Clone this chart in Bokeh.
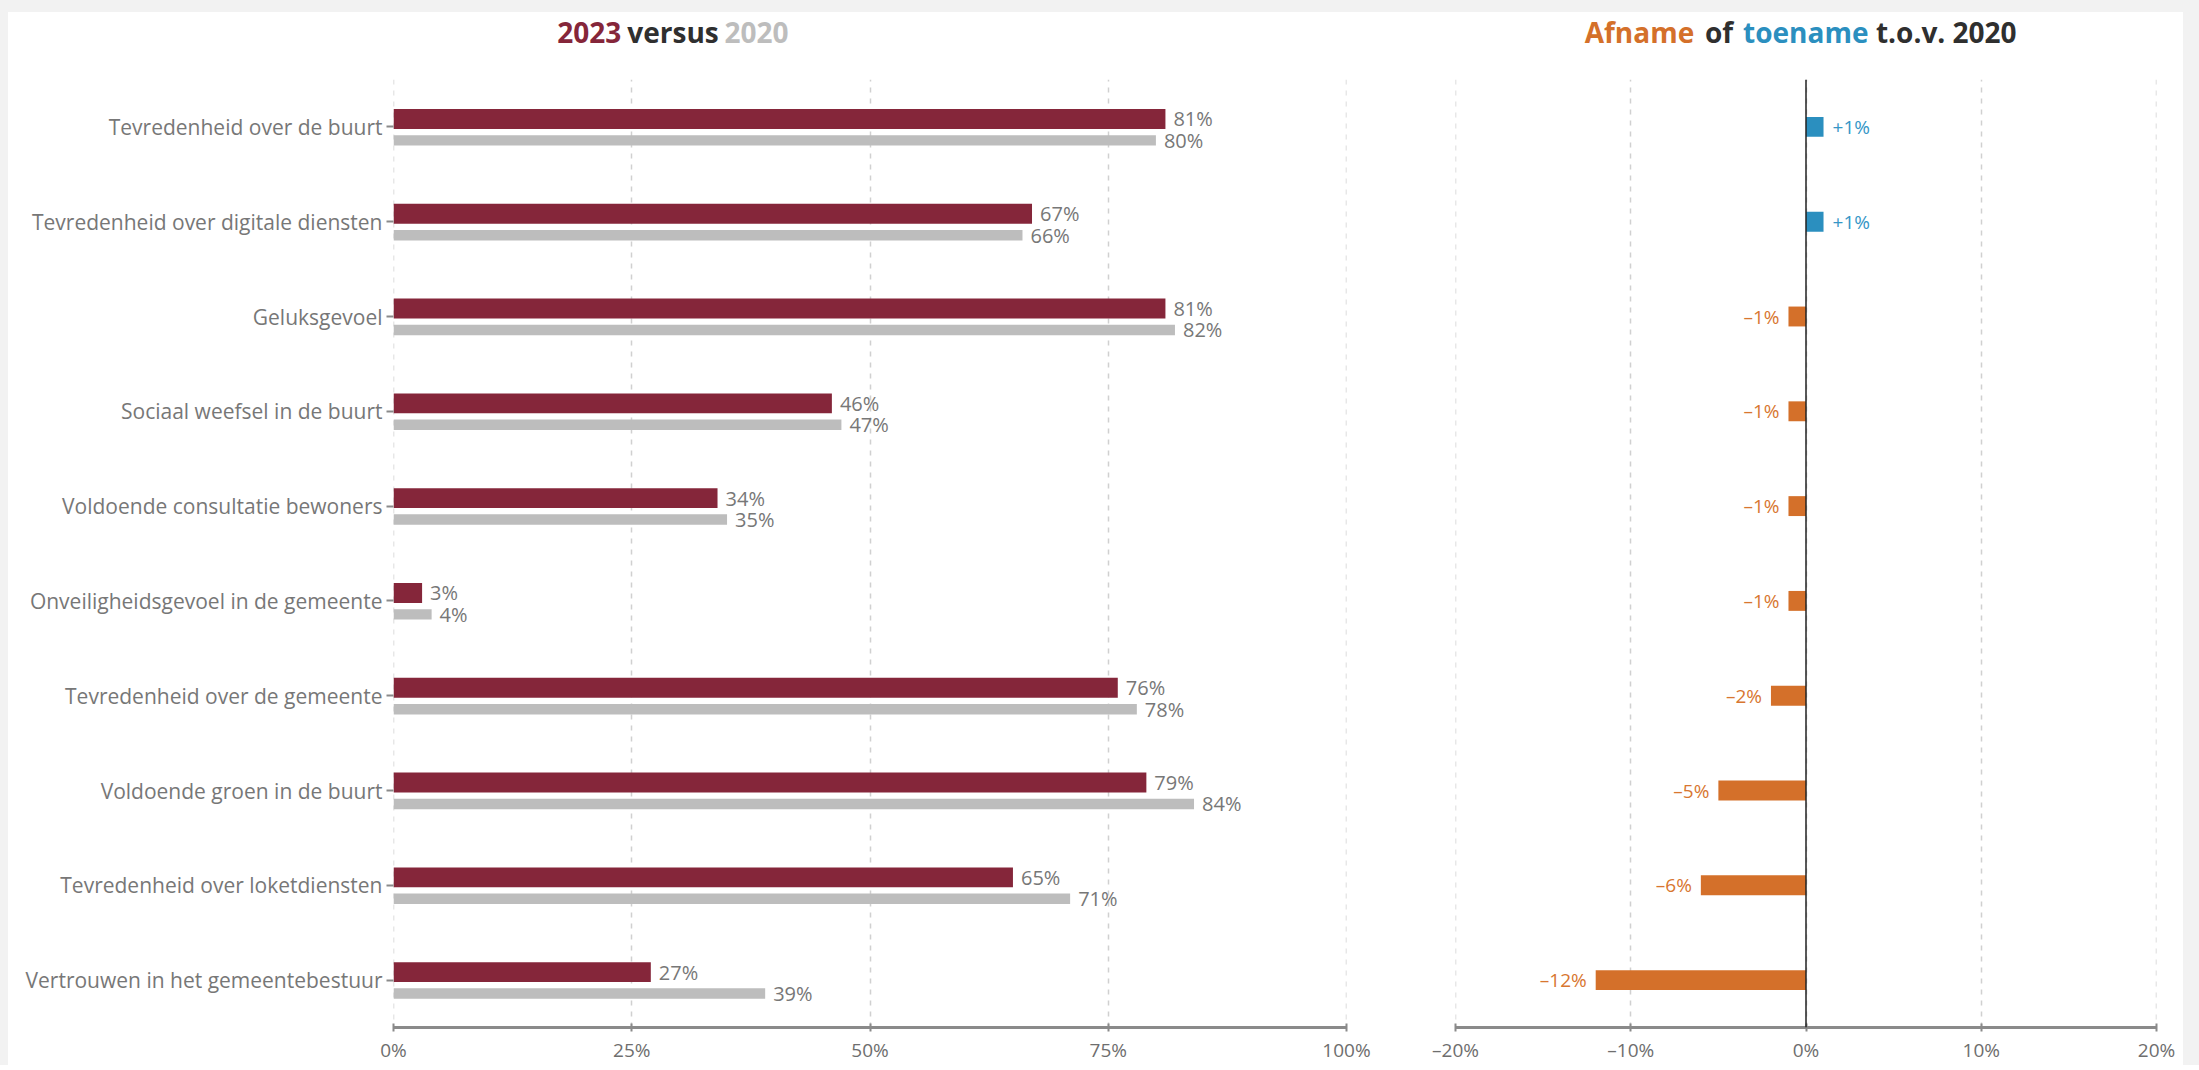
from bokeh.plotting import figure
from bokeh.layouts import row, column
from bokeh.models import ColumnDataSource, FactorRange, Range1d, FixedTicker, Span
from bokeh.transform import dodge
from bokeh.core.properties import value
from bokeh.embed import file_html
from bokeh.resources import INLINE

# ---------------- data ----------------
categories = [
    "Tevredenheid over de buurt",
    "Tevredenheid over digitale diensten",
    "Geluksgevoel",
    "Sociaal weefsel in de buurt",
    "Voldoende consultatie bewoners",
    "Onveiligheidsgevoel in de gemeente",
    "Tevredenheid over de gemeente",
    "Voldoende groen in de buurt",
    "Tevredenheid over loketdiensten",
    "Vertrouwen in het gemeentebestuur",
]
values_2023 = [81, 67, 81, 46, 34, 3, 76, 79, 65, 27]
values_2020 = [80, 66, 82, 47, 35, 4, 78, 84, 71, 39]
change = [1, 1, -1, -1, -1, -1, -2, -5, -6, -12]

left_ticks = [0, 25, 50, 75, 100]
left_tick_labels = ["0%", "25%", "50%", "75%", "100%"]
right_ticks = [-20, -10, 0, 10, 20]
right_tick_labels = ["\u201320%", "\u201310%", "0%", "10%", "20%"]

left_title_words = ["2023", "versus", "2020"]
right_title_words = ["Afname", "of", "toename", "t.o.v. 2020"]

# ---------------- styles ----------------
MAROON = "#85263a"
GREY_BAR = "#bdbdbd"
ORANGE = "#d4702a"
BLUE = "#2b8fbf"
TEXT_GREY = "#777777"
DARK = "#2f2f2f"
GRID = "#d0d0d0"
FONT = "Open Sans"

src = ColumnDataSource(dict(
    cat=categories,
    v23=values_2023,
    v20=values_2020,
    l23=[f"{v}%" for v in values_2023],
    l20=[f"{v}%" for v in values_2020],
))

pos_idx = [i for i, c in enumerate(change) if c >= 0]
neg_idx = [i for i, c in enumerate(change) if c < 0]
src_pos = ColumnDataSource(dict(
    cat=[categories[i] for i in pos_idx],
    d=[change[i] for i in pos_idx],
    lab=[f"+{change[i]}%" for i in pos_idx],
))
src_neg = ColumnDataSource(dict(
    cat=[categories[i] for i in neg_idx],
    d=[change[i] for i in neg_idx],
    lab=[f"\u2013{abs(change[i])}%" for i in neg_idx],
))

y_range = FactorRange(factors=categories[::-1])
xr1 = Range1d(0, 100)
xr2 = Range1d(-20, 20)

TITLE_H = 67
MAIN_H = 950 + 36
W1, W2 = 1387, 788
L1, R1 = 385, 49
L2, R2 = 60, 27


def style_common(p, edges):
    p.outline_line_color = None
    p.background_fill_color = "white"
    p.border_fill_color = "white"
    p.ygrid.grid_line_color = None
    p.xgrid.grid_line_color = GRID
    p.xgrid.grid_line_width = 1.5
    p.xgrid.grid_line_dash = "5 6"
    for e in edges:
        p.add_layout(Span(location=e, dimension="height", line_color=GRID,
                          line_width=1.5, line_dash="5 6", level="underlay"))
    ax = p.xaxis[0]
    ax.axis_line_color = "#8a8a8a"
    ax.axis_line_width = 3
    ax.major_tick_line_color = "#8a8a8a"
    ax.major_tick_line_width = 2
    ax.major_tick_in = 4
    ax.major_tick_out = 4
    ax.minor_tick_line_color = None
    ax.major_label_text_font = FONT
    ax.major_label_text_font_size = "19px"
    ax.major_label_text_color = "#6e6e6e"
    ax.major_label_standoff = 5


def title_fig(width, xr, lb, rb, words, anchors, aligns, colors):
    t = figure(width=width, height=TITLE_H, x_range=xr, y_range=Range1d(0, 1),
               output_backend="svg", toolbar_location=None,
               min_border_left=lb, min_border_right=rb,
               min_border_top=0, min_border_bottom=0)
    t.axis.visible = False
    t.grid.grid_line_color = None
    t.outline_line_color = None
    t.border_fill_color = "white"
    yy = 1 - 19.7 / TITLE_H
    for w, xa, al, col in zip(words, anchors, aligns, colors):
        ts = ColumnDataSource(dict(x=[xa], y=[yy], text=[w]))
        t.text(x="x", y="y", text="text", text_color=col, text_align=al,
               text_baseline="middle", text_font=value(FONT), text_font_size="28px",
               text_font_style="bold", source=ts)
    return t


# ---------------- left figure ----------------
p1 = figure(width=W1, height=MAIN_H, y_range=y_range, x_range=xr1,
            output_backend="svg", toolbar_location=None,
            min_border_left=L1, min_border_right=R1,
            min_border_top=0, min_border_bottom=36)
style_common(p1, [left_ticks[0], left_ticks[-1]])
p1.xaxis.ticker = FixedTicker(ticks=left_ticks)
p1.xaxis.major_label_overrides = dict(zip(left_ticks, left_tick_labels))
p1.yaxis.axis_line_color = None
p1.yaxis.major_tick_in = 0
p1.yaxis.major_tick_out = 7
p1.yaxis.major_tick_line_color = "#8a8a8a"
p1.yaxis.major_tick_line_width = 2
p1.yaxis.major_label_standoff = 4
p1.yaxis.major_label_text_font = FONT
p1.yaxis.major_label_text_font_size = "21px"
p1.yaxis.major_label_text_color = TEXT_GREY

OFF23, OFF20 = 0.084, -0.142
p1.hbar(y=dodge("cat", OFF23, range=y_range), left=0, right="v23", height=0.21,
        color=MAROON, line_color=None, source=src)
p1.hbar(y=dodge("cat", OFF20, range=y_range), left=0, right="v20", height=0.11,
        color=GREY_BAR, line_color=None, source=src)
p1.text(x="v23", y=dodge("cat", OFF23, range=y_range), text="l23", x_offset=8,
        text_align="left", text_baseline="middle", text_font=value(FONT),
        text_font_size="20px", text_color=TEXT_GREY, source=src)
p1.text(x="v20", y=dodge("cat", OFF20, range=y_range), text="l20", x_offset=8,
        text_align="left", text_baseline="middle", text_font=value(FONT),
        text_font_size="20px", text_color=TEXT_GREY, source=src)

t1 = title_fig(W1, xr1, L1, R1, left_title_words, [23.9, 29.33, 34.73],
               ["right", "center", "left"], [MAROON, DARK, "#bdbdbd"])

# ---------------- right figure ----------------
p2 = figure(width=W2, height=MAIN_H, y_range=y_range, x_range=xr2,
            output_backend="svg", toolbar_location=None,
            min_border_left=L2, min_border_right=R2,
            min_border_top=0, min_border_bottom=36)
style_common(p2, [right_ticks[0], right_ticks[-1]])
p2.xaxis.ticker = FixedTicker(ticks=right_ticks)
p2.xaxis.major_label_overrides = dict(zip(right_ticks, right_tick_labels))
p2.yaxis.visible = False

p2.hbar(y="cat", left=0, right="d", height=0.21, color=BLUE, line_color=None, source=src_pos)
p2.hbar(y="cat", left=0, right="d", height=0.21, color=ORANGE, line_color=None, source=src_neg)
p2.add_layout(Span(location=0, dimension="height", line_color="#222222", line_width=1.5))
p2.text(x="d", y="cat", text="lab", x_offset=9, text_align="left", text_baseline="middle",
        text_font=value(FONT), text_font_size="19px", text_color="#3596c6", source=src_pos)
p2.text(x="d", y="cat", text="lab", x_offset=-9, text_align="right", text_baseline="middle",
        text_font=value(FONT), text_font_size="19px", text_color="#d87630", source=src_neg)

t2 = title_fig(W2, xr2, L2, R2, right_title_words, [-6.38, -4.96, -3.59, 3.99],
               ["right", "center", "left", "left"], [ORANGE, DARK, BLUE, DARK])

inner = column(row(t1, t2, styles={"background-color": "white"}),
               row(p1, p2, styles={"background-color": "white"}),
               styles={"background-color": "white"})
layout = column(inner, styles={"background-color": "#f2f2f2", "padding": "12px 16px 0px 8px"})
open("out.html", "w").write(file_html(layout, INLINE))
